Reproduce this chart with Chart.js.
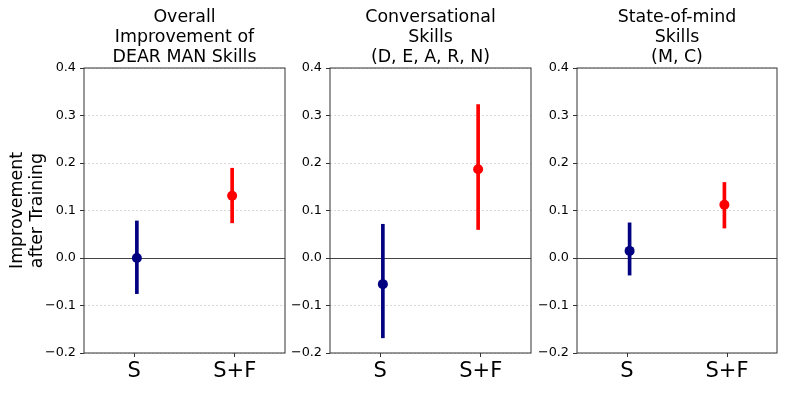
<!DOCTYPE html>
<html>
<head>
<meta charset="utf-8">
<script src="https://cdn.jsdelivr.net/npm/chart.js@4/dist/chart.umd.min.js"></script>
<style>
    body { margin: 0; background: #fff; }
    #wrap { position: relative; width: 789px; height: 395px; overflow: hidden; }
    canvas { position: absolute; top: 0; }
</style>
</head>
<body>
<div id="wrap">
    <canvas id="overallChart" width="290" height="395" style="left:0px"></canvas>
    <canvas id="convChart" width="251" height="395" style="left:285px"></canvas>
    <canvas id="stateChart" width="257" height="395" style="left:532px"></canvas>
</div>
<script>
// Data
const groups = ['S', 'S+F'];
const groupColors = ['#000080', '#ff0000'];
const yTicks = [-0.2, -0.1, 0.0, 0.1, 0.2, 0.3, 0.4];

const overallMean = [0.000, 0.131];
const overallLow = [-0.075, 0.074];
const overallHigh = [0.078, 0.189];

const convMean = [-0.055, 0.187];
const convLow = [-0.168, 0.060];
const convHigh = [0.071, 0.323];

const stateMean = [0.015, 0.112];
const stateLow = [-0.036, 0.063];
const stateHigh = [0.074, 0.159];

// small horizontal dodge of the markers, like in the original plot
const dodge = [0.026, -0.026];

const FONT = 'DejaVu Sans';

// Frame around the plot area (all four spines)
const framePlugin = {
    id: 'frame',
    beforeDatasetsDraw(chart) {
        const { ctx, chartArea: a } = chart;
        ctx.save();
        ctx.strokeStyle = '#333';
        ctx.lineWidth = 1;
        ctx.strokeRect(a.left, a.top, a.right - a.left, a.bottom - a.top);
        ctx.restore();
    }
};

function makePanel(id, title, mean, low, high, yAxisWidth, rightPad, yTitle) {
    new Chart(document.getElementById(id), {
        type: 'bar',
        data: {
            datasets: [
                {
                    type: 'line',
                    showLine: false,
                    order: 0,
                    data: groups.map((g, i) => ({ x: i + dodge[i], y: mean[i] })),
                    pointRadius: 5,
                    pointBorderWidth: 0,
                    pointBackgroundColor: groupColors,
                    pointBorderColor: groupColors
                },
                {
                    type: 'bar',
                    order: 1,
                    data: groups.map((g, i) => ({ x: i + dodge[i], y: [low[i], high[i]] })),
                    backgroundColor: groupColors,
                    borderWidth: 0,
                    barThickness: 3,
                    borderSkipped: false
                }
            ]
        },
        options: {
            responsive: false,
            animation: false,
            devicePixelRatio: 1,
            layout: { padding: { left: 0, right: rightPad, top: 0, bottom: 0 } },
            plugins: {
                legend: { display: false },
                tooltip: { enabled: false },
                title: {
                    display: true,
                    text: title,
                    fullSize: false,
                    color: '#000',
                    font: { family: FONT, size: 17.4, weight: 'normal', lineHeight: '20px' },
                    padding: { top: 7, bottom: 1 }
                }
            },
            scales: {
                x: {
                    type: 'linear',
                    min: -0.5,
                    max: 1.5,
                    offset: false,
                    afterBuildTicks: (s) => { s.ticks = groups.map((g, i) => ({ value: i })); },
                    afterFit: (s) => { s.height = 42; },
                    ticks: {
                        callback: (v) => groups[v],
                        color: '#000',
                        padding: 2,
                        maxRotation: 0,
                        autoSkip: false,
                        font: { family: FONT, size: 21 }
                    },
                    grid: {
                        offset: false,
                        drawOnChartArea: false,
                        drawTicks: true,
                        tickLength: 4,
                        tickColor: '#333'
                    },
                    border: { display: false }
                },
                y: {
                    min: -0.2,
                    max: 0.4,
                    afterBuildTicks: (s) => { s.ticks = yTicks.map(v => ({ value: v })); },
                    afterFit: (s) => { s.width = yAxisWidth; },
                    ticks: {
                        callback: (v) => (v < -1e-9 ? '\u2212' : '') + Math.abs(v).toFixed(1),
                        color: '#000',
                        padding: 4,
                        font: { family: FONT, size: 12.8 }
                    },
                    grid: {
                        color: (c) => (c.tick && Math.abs(c.tick.value) < 1e-9) ? '#444' : '#cfcfcf',
                        lineWidth: (c) => (c.tick && Math.abs(c.tick.value) < 1e-9) ? 1 : 0.8,
                        drawTicks: true,
                        tickLength: 4,
                        tickColor: '#333',
                        tickWidth: 1
                    },
                    border: {
                        display: false,
                        dash: (c) => (c.tick && Math.abs(c.tick.value) < 1e-9) ? [] : [2, 2]
                    },
                    title: {
                        display: !!yTitle,
                        text: yTitle || '',
                        color: '#000',
                        font: { family: FONT, size: 17.4, lineHeight: '20px' },
                        padding: { top: 7.5, bottom: 0 }
                    }
                }
            }
        },
        plugins: [framePlugin]
    });
}

makePanel('overallChart', ['Overall', 'Improvement of', 'DEAR MAN Skills'],
    overallMean, overallLow, overallHigh, 84, 5, ['Improvement', 'after Training']);
makePanel('convChart', ['Conversational', 'Skills', '(D, E, A, R, N)'],
    convMean, convLow, convHigh, 45, 5, null);
makePanel('stateChart', ['State-of-mind', 'Skills', '(M, C)'],
    stateMean, stateLow, stateHigh, 45, 12, null);
</script>
</body>
</html>
